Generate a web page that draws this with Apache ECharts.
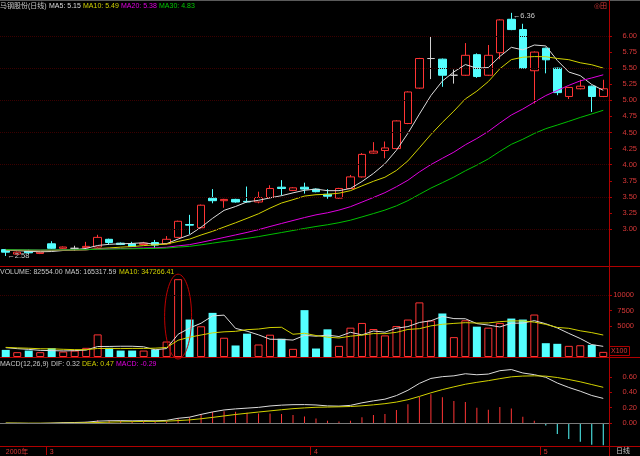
<!DOCTYPE html>
<html><head><meta charset="utf-8">
<script src="https://cdn.jsdelivr.net/npm/echarts/dist/echarts.min.js"></script>
<style>html,body{margin:0;padding:0;background:#000;}#c{width:640px;height:456px;}</style>
</head><body><div id="c"></div>
<script>
// ---------------- data ----------------
const dates = ['2000-02-24','2000-02-25','2000-02-28','2000-02-29',
 '2000-03-01','2000-03-02','2000-03-03','2000-03-06','2000-03-07','2000-03-08','2000-03-09','2000-03-10',
 '2000-03-13','2000-03-14','2000-03-15','2000-03-16','2000-03-17','2000-03-20','2000-03-21','2000-03-22',
 '2000-03-23','2000-03-24','2000-03-27','2000-03-28','2000-03-29','2000-03-30','2000-03-31',
 '2000-04-03','2000-04-04','2000-04-05','2000-04-06','2000-04-07','2000-04-10','2000-04-11','2000-04-12',
 '2000-04-13','2000-04-14','2000-04-17','2000-04-18','2000-04-19','2000-04-20','2000-04-21','2000-04-24',
 '2000-04-25','2000-04-26','2000-04-27','2000-04-28',
 '2000-05-08','2000-05-09','2000-05-10','2000-05-11','2000-05-12','2000-05-15'];
const openPrice  = [2.68,2.61,2.66,2.62,2.77,2.70,2.70,2.71,2.72,2.84,2.78,2.77,2.76,2.79,2.77,2.87,3.07,3.02,3.48,3.44,3.46,3.43,3.42,3.49,3.65,3.60,3.65,3.62,3.54,3.48,3.63,3.81,4.18,4.22,4.25,4.64,5.19,5.65,5.64,5.39,5.39,5.71,5.39,5.74,6.26,6.10,5.46,5.81,5.50,5.06,5.18,5.22,5.06];
const closePrice = [2.64,2.64,2.63,2.64,2.70,2.72,2.70,2.73,2.87,2.79,2.76,2.73,2.78,2.75,2.84,3.12,3.06,3.37,3.44,3.46,3.42,3.42,3.49,3.63,3.63,3.64,3.62,3.58,3.51,3.63,3.81,4.16,4.21,4.26,4.68,5.13,5.65,5.65,5.39,5.39,5.70,5.37,5.70,6.25,6.10,5.50,5.75,5.63,5.12,5.20,5.22,5.06,5.18];
const lowPrice   = [2.58,2.60,2.61,2.61,2.69,2.69,2.66,2.69,2.71,2.76,2.75,2.72,2.75,2.70,2.76,2.86,2.92,3.01,3.40,3.33,3.41,3.41,3.40,3.48,3.52,3.59,3.55,3.57,3.47,3.47,3.62,3.80,4.17,4.10,4.24,4.63,5.18,5.33,5.21,5.26,5.38,5.35,5.38,5.64,6.09,5.49,4.95,5.42,5.08,5.02,5.17,4.82,5.05];
const highPrice  = [2.69,2.65,2.68,2.65,2.81,2.73,2.74,2.80,2.91,2.85,2.79,2.80,2.80,2.83,2.89,3.13,3.22,3.38,3.62,3.47,3.47,3.66,3.58,3.68,3.76,3.65,3.72,3.63,3.62,3.64,3.84,4.18,4.35,4.36,4.69,5.14,5.66,6.00,5.65,5.48,5.89,5.73,5.86,6.26,6.36,6.19,5.76,5.82,5.51,5.21,5.32,5.23,5.32];
const ma5  = [2.672,2.664,2.654,2.646,2.650,2.666,2.678,2.698,2.744,2.762,2.770,2.776,2.786,2.762,2.772,2.844,2.910,3.028,3.166,3.290,3.350,3.422,3.446,3.484,3.518,3.562,3.602,3.620,3.596,3.596,3.630,3.738,3.864,4.014,4.224,4.488,4.786,5.074,5.300,5.442,5.556,5.500,5.510,5.682,5.824,5.784,5.860,5.846,5.620,5.440,5.384,5.246,5.156];
const ma10 = [2.676,2.672,2.667,2.663,2.665,2.669,2.671,2.676,2.695,2.706,2.718,2.727,2.742,2.753,2.767,2.807,2.843,2.907,2.964,3.031,3.097,3.166,3.237,3.325,3.404,3.456,3.512,3.533,3.540,3.557,3.596,3.670,3.742,3.805,3.910,4.059,4.262,4.469,4.657,4.833,5.022,5.143,5.292,5.491,5.633,5.670,5.680,5.678,5.651,5.632,5.584,5.553,5.501];
const ma20 = [2.678,2.676,2.674,2.672,2.673,2.675,2.676,2.678,2.688,2.693,2.697,2.700,2.705,2.708,2.716,2.738,2.757,2.792,2.830,2.869,2.908,2.947,2.990,3.039,3.086,3.132,3.178,3.220,3.252,3.294,3.347,3.418,3.490,3.565,3.657,3.758,3.887,4.001,4.099,4.195,4.309,4.407,4.517,4.648,4.772,4.865,4.971,5.074,5.154,5.233,5.303,5.348,5.397];
const ma30 = [2.679,2.677,2.676,2.674,2.675,2.676,2.677,2.679,2.685,2.689,2.691,2.693,2.696,2.699,2.704,2.719,2.731,2.754,2.780,2.806,2.830,2.855,2.882,2.914,2.945,2.977,3.009,3.039,3.066,3.098,3.137,3.188,3.240,3.294,3.360,3.441,3.539,3.636,3.720,3.807,3.905,3.993,4.090,4.207,4.316,4.395,4.485,4.560,4.616,4.674,4.734,4.789,4.845];
const volume  = [1150,780,1040,780,1420,880,1040,1480,3650,1480,1040,1040,1040,1200,2500,12570,6050,4960,7130,3110,1860,3770,2020,3600,2950,1320,7570,1370,4470,1800,4740,5500,4520,3490,5000,6050,8820,5900,7030,3210,5930,4900,4740,5500,6210,6050,6860,2230,2130,1800,1900,1960,826];
const volMa5  = [1510,1346,1234,1070,1034,980,1032,1120,1694,1706,1738,1738,1650,1160,1364,3670,4672,5456,6642,6764,4622,4166,3578,2872,2840,2732,3492,3362,3536,3306,3990,3576,4206,4010,4650,4912,5576,5852,6560,6202,6178,5394,5162,4856,5456,5480,5872,5370,4696,3814,2984,2004,1723];
const volMa10 = [1555,1473,1417,1335,1317,1245,1189,1177,1382,1370,1359,1385,1385,1427,1535,2704,3205,3553,3901,4064,4146,4419,4517,4757,4802,3677,3829,3470,3204,3073,3361,3534,3784,3773,3978,4451,4576,5029,5285,5426,5545,5485,5507,5708,5829,5829,5633,5266,4776,4635,4232,3938,3547];
const dif  = [-0.002,-0.003,-0.005,-0.005,-0.001,0.005,0.007,0.011,0.025,0.030,0.031,0.029,0.031,0.029,0.035,0.062,0.077,0.113,0.145,0.171,0.185,0.195,0.205,0.223,0.234,0.240,0.241,0.236,0.224,0.221,0.231,0.264,0.290,0.312,0.359,0.428,0.518,0.583,0.606,0.617,0.644,0.631,0.640,0.684,0.699,0.654,0.632,0.598,0.523,0.465,0.416,0.360,0.322];
const dea  = [0.000,-0.001,-0.002,-0.002,-0.002,-0.001,0.001,0.003,0.007,0.012,0.016,0.018,0.021,0.022,0.025,0.032,0.041,0.056,0.074,0.093,0.112,0.128,0.144,0.159,0.174,0.188,0.198,0.206,0.209,0.212,0.216,0.225,0.238,0.253,0.274,0.305,0.348,0.395,0.437,0.473,0.507,0.532,0.554,0.580,0.604,0.614,0.617,0.613,0.595,0.569,0.539,0.503,0.467];
const macdHist = [-0.003,-0.004,-0.006,-0.006,0.003,0.010,0.012,0.016,0.036,0.036,0.030,0.021,0.020,0.014,0.020,0.059,0.072,0.115,0.143,0.155,0.148,0.133,0.124,0.126,0.119,0.106,0.086,0.061,0.029,0.019,0.031,0.077,0.104,0.118,0.170,0.245,0.341,0.376,0.338,0.289,0.274,0.199,0.174,0.209,0.190,0.081,0.029,-0.032,-0.144,-0.208,-0.245,-0.285,-0.290];
const priceTicks = [3.00,3.25,3.50,3.75,4.00,4.25,4.50,4.75,5.00,5.25,5.50,5.75,6.00];
const volumeTicks = [5000,7500,10000];
const macdTicks = [0,0.2,0.4,0.6];
const priceGuides = [3.0,3.5,4.0,4.5,5.0,5.5,6.0];
const volumeGuides = [10000];
const mainTitle = [['马钢股份(日线)',0,'#c8c8c8'],['MA5: 5.15',49,'#dcdcdc'],['MA10: 5.49',83,'#d2d200'],['MA20: 5.38',121,'#e000e0'],['MA30: 4.83',159,'#00c800']];
const volTitle = [['VOLUME: 82554.00',0,'#c8c8c8'],['MA5: 165317.59',65,'#c8c8c8'],['MA10: 347266.41',119,'#d2d200']];
const macdTitle = [['MACD(12,26,9)',0,'#c8c8c8'],['DIF: 0.32',51,'#c8c8c8'],['DEA: 0.47',82,'#d2d200'],['MACD: -0.29',116,'#e000e0']];

// ---------------- style ----------------
const RED = '#ff3434', CYAN = '#54ffff', AXIS = '#b00000', LBL = '#d83838', GUIDE = '#3a0000';
const WHITE = '#dcdcdc', YEL = '#d2d200', MAG = '#e000e0', GRN = '#00c000';
const FONT = '"Liberation Sans","DejaVu Sans","Noto Sans CJK SC",sans-serif';
const AX_X = 609;
const G = [{left:0, top:3, width:AX_X, height:263},{left:0, top:266, width:AX_X, height:91},{left:0, top:358, width:AX_X, height:88}];

const chart = echarts.init(document.getElementById('c'), null, {renderer:'canvas'});

function xAx(i){
  const o = {type:'category', gridIndex:i, data:dates, boundaryGap:true, position:'bottom',
    axisLine:{show:false, onZero:false}, axisTick:{show:false}, axisLabel:{show:false}, splitLine:{show:false}};
  if (i === 2) {
    const first = (idx) => idx === 0 || dates[idx].slice(5,7) !== dates[idx-1].slice(5,7);
    o.axisLabel = {show:true, interval:first, color:LBL, fontSize:7, fontFamily:FONT, margin:3,
      alignMinLabel:'left',
      formatter:(v, idx) => idx === 0 ? v.slice(0,4) + '年' : String(parseInt(v.slice(5,7),10))};
    o.axisTick = {show:true, interval:(idx)=> idx>0 && first(idx), length:9, lineStyle:{color:AXIS}};
  }
  return o;
}
function yAx(i, min, max, ticks, fmt, margin){
  return {type:'value', gridIndex:i, position:'right', min:min, max:max, scale:false,
    splitLine:{show:false},
    axisLine:{show:true, onZero:false, lineStyle:{color:AXIS}},
    axisTick:{show:true, customValues:ticks, length:3, lineStyle:{color:AXIS}},
    axisLabel:{show:true, customValues:ticks, formatter:fmt, color:LBL, fontSize:7.5, fontFamily:FONT, align:'right', margin:margin}};
}
function guideLines(vals, color, type){
  return {silent:true, symbol:'none', animation:false, label:{show:false},
    lineStyle:{color:color, type:type, width:1}, data: vals.map(v=>({yAxis:v}))};
}
function lineS(name, data, color, xi){
  return {name:name, type:'line', xAxisIndex:xi, yAxisIndex:xi, data:data, showSymbol:false, symbol:'none',
    lineStyle:{color:color, width:1}, itemStyle:{color:color}, silent:true, z:3};
}

const candles = dates.map((d,i)=>[openPrice[i], closePrice[i], lowPrice[i], highPrice[i]]);
const isUp = (i) => closePrice[i] >= openPrice[i];
const hiIdx = highPrice.indexOf(Math.max(...highPrice));
const loIdx = lowPrice.indexOf(Math.min(...lowPrice));

const option = {
  animation:false,
  backgroundColor:'#000',
  grid:G,
  xAxis:[xAx(0), xAx(1), xAx(2)],
  yAxis:[
    yAx(0, 2.425, 6.513, priceTicks, v=>v.toFixed(2), 28),
    yAx(1, 0, 14700, volumeTicks, v=>String(v), 25),
    yAx(2, -0.30, 0.85, macdTicks, v=>v.toFixed(2), 28)
  ],
  series:[
    {type:'candlestick', xAxisIndex:0, yAxisIndex:0, data:candles, barWidth:8,
      itemStyle:{color:'#000', color0:CYAN, borderColor:RED, borderColor0:CYAN, borderColorDoji:'#d0d0d0', borderWidth:1},
      markLine: guideLines(priceGuides, GUIDE, 'dotted'),
      markPoint:{symbol:'circle', symbolSize:1, itemStyle:{color:'rgba(0,0,0,0)'}, silent:true,
        label:{show:true, position:'right', distance:1, color:'#c8c8c8', fontSize:7.5, fontFamily:FONT, formatter:p=>'\u2190' + p.value},
        data:[{coord:[hiIdx, highPrice[hiIdx]], value:highPrice[hiIdx].toFixed(2), label:{offset:[0,3]}},
              {coord:[loIdx, lowPrice[loIdx]], value:lowPrice[loIdx].toFixed(2)}]},
      z:2},
    lineS('MA5', ma5, WHITE, 0),
    lineS('MA10', ma10, YEL, 0),
    lineS('MA20', ma20, MAG, 0),
    lineS('MA30', ma30, GRN, 0),
    {type:'bar', xAxisIndex:1, yAxisIndex:1, barWidth:8,
      data: volume.map((v,i)=>({value:v, itemStyle: isUp(i) ? {color:'rgba(0,0,0,0)', borderColor:RED, borderWidth:1} : {color:CYAN, borderColor:CYAN, borderWidth:0}})),
      markLine: guideLines(volumeGuides, GUIDE, 'dotted'), z:2},
    lineS('VMA5', volMa5, WHITE, 1),
    lineS('VMA10', volMa10, YEL, 1),
    {type:'bar', xAxisIndex:2, yAxisIndex:2, barWidth:1,
      data: macdHist.map(v=>({value:v, itemStyle:{color: v >= 0 ? RED : CYAN}})),
      markLine: guideLines([0], '#7a7a7a', 'solid'), z:2},
    lineS('DIF', dif, WHITE, 2),
    lineS('DEA', dea, YEL, 2)
  ]
};
chart.setOption(option);

// ---------------- decorations ----------------
const gfx = [];
function txt(t, x, y, color, size, align){
  gfx.push({type:'text', x:x, y:y, silent:true, z:10,
    style:{text:t, fill:color, font: (size||7) + 'px ' + FONT, textAlign:align||'left', textVerticalAlign:'middle', verticalAlign:'middle'}});
}
function ln(x1,y1,x2,y2,color){
  gfx.push({type:'line', silent:true, z:9, shape:{x1:x1,y1:y1,x2:x2,y2:y2}, style:{stroke:color, lineWidth:1}});
}
ln(0, 0.5, 640, 0.5, '#5a5a5a');
ln(0, 266.5, 640, 266.5, AXIS);
ln(0, 357.5, 640, 357.5, AXIS);
ln(0, 446.5, 640, 446.5, AXIS);
ln(AX_X + 0.5, 0, AX_X + 0.5, 456, AXIS);
mainTitle.forEach(s=>txt(s[0], s[1], 6, s[2], 7));
volTitle.forEach(s=>txt(s[0], s[1], 272, s[2], 7));
macdTitle.forEach(s=>txt(s[0], s[1], 364, s[2], 7));
txt('◎田', 594, 6, LBL, 7);
txt('日线', 616, 451, '#c8c8c8', 7);
txt('X100', 611, 351, LBL, 7);
gfx.push({type:'rect', silent:true, z:9, shape:{x:609.5, y:346.5, width:20, height:9}, style:{fill:null, stroke:AXIS, lineWidth:1}});
// ellipse marking the record-volume bar
const pk = volume.indexOf(Math.max(...volume));
const pTop = chart.convertToPixel({gridIndex:1}, [pk, volume[pk]]);
const pBot = chart.convertToPixel({gridIndex:1}, [pk, 0]);
gfx.push({type:'ellipse', silent:true, z:9,
  shape:{cx:pTop[0], cy:(pTop[1] - 5 + pBot[1] + 2)/2, rx:13.5, ry:(pBot[1] + 2 - pTop[1] + 5)/2},
  style:{fill:null, stroke:'#c00000', lineWidth:1}});
chart.setOption({graphic:{elements:gfx}});
</script></body></html>
